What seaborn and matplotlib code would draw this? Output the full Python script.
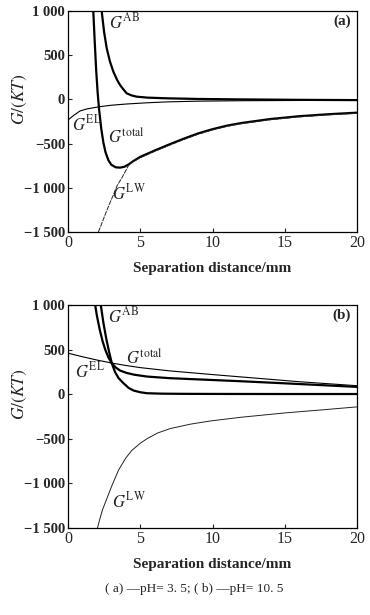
import matplotlib
matplotlib.use('Agg')
from matplotlib import pyplot as plt
import seaborn as sns

# panel (a): pH = 3.5
a_ab_x = [2.33, 2.5, 2.68, 2.9, 3.14, 3.4, 3.6, 3.85, 4.06, 4.4, 4.75, 5.5, 6.9, 9, 12, 16, 20]
a_ab_y = [1000, 760, 578, 430, 313, 220, 163, 110, 69, 45, 31, 20, 12, 5, 0, -5, -8]
a_tot_x = [1.75, 1.85, 1.95, 2.05, 2.15, 2.3, 2.45, 2.6, 2.8, 3.0, 3.3, 3.6, 3.9, 4.2, 4.5,
           5, 6, 7, 8, 9, 10, 11, 12, 14, 16, 18, 20]
a_tot_y = [1000, 650, 330, 80, -110, -330, -490, -600, -690, -740, -768, -772, -762, -735, -700,
           -650, -578, -510, -445, -385, -337, -297, -267, -222, -190, -168, -150]
a_lw_x = [2.1, 2.3, 2.56, 2.85, 3.14, 3.4, 3.71, 4.0, 4.18, 4.4, 5, 6, 7, 8, 9, 10, 11, 12, 14, 16, 18, 20]
a_lw_y = [-1500, -1420, -1308, -1190, -1081, -975, -893, -805, -750, -712, -660, -588, -520, -455,
          -395, -345, -305, -275, -230, -198, -175, -158]
a_el_x = [0, 0.4, 0.83, 1.3, 2.17, 3, 4.06, 5.5, 6.9, 9, 12, 16, 20]
a_el_y = [-233, -180, -131, -108, -83, -66, -52, -38, -28, -20, -15, -12, -10]

# panel (b): pH = 10.5
b_ab_x = [2.27, 2.45, 2.65, 2.85, 3.03, 3.25, 3.5, 3.84, 4.2, 4.54, 5.0, 5.46, 6.5, 8, 10, 15, 20]
b_ab_y = [1000, 800, 620, 470, 348, 250, 180, 123, 70, 41, 22, 11, 6, 4, 3, 2, 2]
b_tot_x = [1.88, 2.0, 2.2, 2.4, 2.6, 2.8, 3.03, 3.3, 3.6, 4.07, 4.6, 5.46, 7, 9.86, 12, 15, 18, 20]
b_tot_y = [1000, 880, 720, 590, 490, 410, 348, 300, 265, 238, 218, 198, 180, 160, 145, 122, 98, 82]
b_el_x = [0, 1, 2, 3, 4, 5, 7, 10, 13, 16, 20]
b_el_y = [460, 420, 383, 350, 322, 298, 262, 220, 180, 140, 95]
b_lw_x = [2.04, 2.2, 2.4, 2.69, 3.0, 3.5, 4.0, 4.42, 5.0, 5.46, 6.2, 7.08, 8.5, 9.86, 12, 15, 18, 20]
b_lw_y = [-1500, -1400, -1290, -1170, -1040, -850, -715, -630, -550, -500, -435, -385, -335,
          -300, -258, -210, -170, -142]

x_ticks = [0, 5, 10, 15, 20]
y_ticks = [1000, 500, 0, -500, -1000, -1500]
y_tick_labels = ['1 000', '500', '0', '\u2212500', '\u22121 000', '\u22121 500']

sns.set_style('ticks')
plt.rcParams['font.family'] = ['Liberation Serif', 'DejaVu Serif']
plt.rcParams['mathtext.fontset'] = 'stix'

fig = plt.figure(figsize=(3.7, 6.15), dpi=100)
ax_a = fig.add_axes([68 / 370, 1 - 232 / 615, 289 / 370, 221 / 615])
ax_b = fig.add_axes([68 / 370, 1 - 528 / 615, 289 / 370, 223 / 615])


def draw_panel(ax, ab, tot, el, lw, labels, tag, lw_style):
  thick = dict(color='black', linewidth=1.6, estimator=None)
  thin = dict(color='black', linewidth=0.8, estimator=None)
  sns.lineplot(x=ab[0], y=ab[1], ax=ax, **thick)
  sns.lineplot(x=tot[0], y=tot[1], ax=ax, **thick)
  sns.lineplot(x=el[0], y=el[1], ax=ax, **thin)
  sns.lineplot(x=lw[0], y=lw[1], ax=ax, color='#222222', linewidth=0.7,
               linestyle=lw_style, estimator=None)

  for name, (tx, ty) in labels.items():
    ax.text(tx, ty, r'$G^{\mathrm{' + name + '}}$', fontsize=12, va='center')
  ax.text(19.6, 880, tag, fontsize=11, fontweight='bold', ha='right', va='center')

  ax.set_xlim(0, 20)
  ax.set_ylim(-1500, 1000)
  ax.set_xticks(x_ticks)
  ax.set_xticklabels([str(t) for t in x_ticks], fontsize=11.5)
  ax.set_yticks(y_ticks)
  ax.set_yticklabels(y_tick_labels, fontsize=10.5, fontweight='bold')
  ax.tick_params(direction='in', length=3, width=0.8, pad=2)
  ax.set_xlabel('Separation distance/mm', fontsize=11, fontweight='bold', labelpad=8)
  ax.set_ylabel(r'$G/(KT)$', fontsize=12.5)
  ax.yaxis.set_label_coords(-0.135, 0.6)
  for s in ax.spines.values():
    s.set_linewidth(0.9)
    s.set_color('black')


draw_panel(ax_a, (a_ab_x, a_ab_y), (a_tot_x, a_tot_y), (a_el_x, a_el_y), (a_lw_x, a_lw_y),
           {'AB': (2.85, 870), 'EL': (0.3, -280), 'total': (2.75, -430), 'LW': (3.05, -1060)},
           '(a)', (0, (5, 1)))
draw_panel(ax_b, (b_ab_x, b_ab_y), (b_tot_x, b_tot_y), (b_el_x, b_el_y), (b_lw_x, b_lw_y),
           {'AB': (2.8, 870), 'EL': (0.45, 260), 'total': (4.0, 400), 'LW': (3.05, -1200)},
           '(b)', '-')

fig.text(0.524, 1 - 589 / 615, '( a) —pH= 3. 5; ( b) —pH= 10. 5', fontsize=9.5,
         ha='center', va='center')

fig.savefig('out.png', dpi=100)
